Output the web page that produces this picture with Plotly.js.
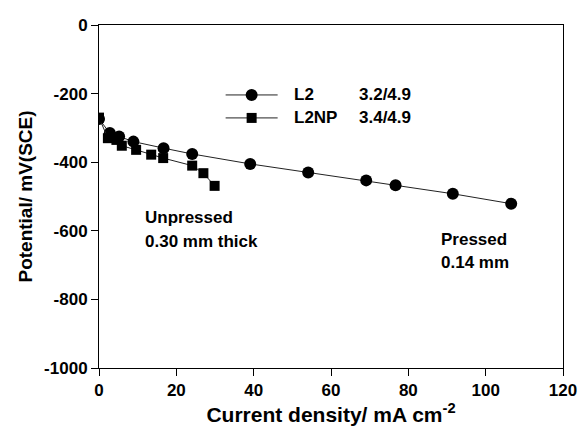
<!DOCTYPE html>
<html>
<head>
<meta charset="utf-8">
<script src="https://cdn.plot.ly/plotly-3.0.1.min.js"></script>
<style>html,body{margin:0;padding:0;background:#fff;}#chart{width:582px;height:430px;}</style>
</head>
<body>
<div id="chart"></div>
<script>
const l2X = [0, 2.8, 5.2, 8.9, 16.7, 24.1, 39.1, 54.1, 69.1, 76.7, 91.5, 106.6];
const l2Y = [-274, -315, -325, -340, -359, -376, -405, -430, -453, -467, -492, -521];
const l2npX = [0, 2.3, 4.5, 5.9, 9.6, 13.5, 16.6, 24.1, 27.0, 29.9];
const l2npY = [-270, -330, -335, -352, -364, -378, -388, -410, -432, -469];
const xTicks = [0, 20, 40, 60, 80, 100, 120];
const yTicks = [0, -200, -400, -600, -800, -1000];

const M = {l: 99.4, r: 18.7, t: 25, b: 61.7};
const W = 582, H = 430;
const pw = W - M.l - M.r, ph = H - M.t - M.b;
const px = v => (v - M.l) / pw;
const py = v => (H - M.b - v) / ph;

const font = {family: 'Liberation Sans, Arial, sans-serif', color: '#000'};
const bold = s => Object.assign({size: s, weight: 'bold'}, font);
const traces = [
  {x: l2X, y: l2Y, mode: 'lines+markers', name: 'L2',
   line: {color: '#222', width: 1}, marker: {symbol: 'circle', size: 12, color: '#000'}},
  {x: l2npX, y: l2npY, mode: 'lines+markers', name: 'L2NP',
   line: {color: '#222', width: 1}, marker: {symbol: 'square', size: 10, color: '#000'}}
];
function txt(x, y, t) {
  return {xref: 'paper', yref: 'paper', x: px(x), y: py(y), text: t, showarrow: false,
    xanchor: 'left', yanchor: 'middle', font: bold(17)};
}
const layout = {
  width: W, height: H,
  margin: M,
  paper_bgcolor: '#fff', plot_bgcolor: '#fff',
  showlegend: false,
  xaxis: {range: [0, 120], tickvals: xTicks, ticktext: xTicks.map(String),
    ticks: 'outside', ticklen: 7, tickcolor: '#000', showgrid: false, zeroline: false,
    showline: true, linecolor: '#000', linewidth: 1, mirror: true,
    tickfont: bold(17),
    title: {text: 'Current density/ mA cm<sup>-2</sup>', standoff: 5, font: bold(21)}},
  yaxis: {range: [-1000, 0], tickvals: yTicks, ticktext: yTicks.map(String),
    ticks: 'outside', ticklen: 7, tickcolor: '#000', showgrid: false, zeroline: false,
    showline: true, linecolor: '#000', linewidth: 1, mirror: true,
    tickfont: bold(17),
    title: {text: 'Potential/ mV(SCE)', standoff: 6, font: bold(19)}},
  shapes: [
    {type: 'line', xref: 'paper', yref: 'paper', x0: px(226), x1: px(278), y0: py(95), y1: py(95), line: {color: '#222', width: 1}},
    {type: 'line', xref: 'paper', yref: 'paper', x0: px(226), x1: px(278), y0: py(118), y1: py(118), line: {color: '#222', width: 1}},
    {type: 'circle', xref: 'paper', yref: 'paper', xsizemode: 'pixel', ysizemode: 'pixel',
     xanchor: px(252), yanchor: py(95), x0: -6, x1: 6, y0: -6, y1: 6,
     fillcolor: '#000', line: {width: 0}},
    {type: 'rect', xref: 'paper', yref: 'paper', xsizemode: 'pixel', ysizemode: 'pixel',
     xanchor: px(252), yanchor: py(118), x0: -5, x1: 5, y0: -5, y1: 5,
     fillcolor: '#000', line: {width: 0}}
  ],
  annotations: [
    txt(292, 95, 'L2'),
    txt(292, 118, 'L2NP'),
    txt(357, 95, '3.2/4.9'),
    txt(357, 118, '3.4/4.9'),
    txt(143, 218, 'Unpressed'),
    txt(143, 242, '0.30 mm thick'),
    txt(439, 240, 'Pressed'),
    txt(439, 263, '0.14 mm')
  ]
};
Plotly.newPlot('chart', traces, layout, {displayModeBar: false, staticPlot: true});
</script>
</body>
</html>
